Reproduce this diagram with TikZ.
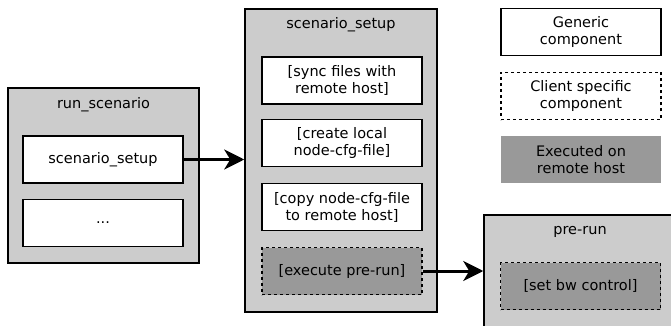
\documentclass[tikz,border=0pt]{standalone}
\usepackage{fontspec}
\setmainfont{DejaVu Sans}
\usetikzlibrary{arrows.meta}
\definecolor{outergray}{HTML}{CCCCCC}
\definecolor{remotegray}{HTML}{999999}
\begin{document}
\begin{tikzpicture}[x=1pt,y=-1pt,
    font=\fontsize{14.5}{17}\selectfont,
    group/.style={draw=black,line width=1.5pt,fill=outergray,inner sep=0pt},
    title/.style={inner sep=0pt},
    generic/.style={draw=black,line width=1.5pt,fill=white,align=center,
      minimum width=160pt,minimum height=47pt,inner sep=0pt},
    client/.style={generic,dash pattern=on 3pt off 3pt},
    remote/.style={fill=remotegray},
    flow/.style={line width=3pt,-{Stealth[length=20pt,width=20pt,inset=6pt]}}]
  \useasboundingbox (0,0) rectangle (671,326);
  \clip (0,0) rectangle (671,326);
  % groups
  \node[group,minimum width=191pt,minimum height=175pt] (run) at (103.5,175.5) {};
  \node[group,minimum width=192pt,minimum height=303pt] (setup) at (341,160.5) {};
  \node[group,minimum width=200pt,minimum height=125pt] (prerun) at (584,277.5) {};
  \node[title] (runtitle) at (103.5,105) {run\_scenario};
  \node[title] (setuptitle) at (341,25) {scenario\_setup};
  \node[title] (preruntitle) at (580,232) {pre-run};
  % run_scenario
  \node[generic] (rs_setup) at (103,159.5) {scenario\_setup};
  \node[generic] (rs_more) at (103,223) {...};
  % scenario_setup
  \node[generic] (ss_sync) at (342,80.5) {[sync files with\\remote host]};
  \node[generic] (ss_cfg) at (342,143) {[create local\\node-cfg-file]};
  \node[generic] (ss_copy) at (342,207) {[copy node-cfg-file\\to remote host]};
  \node[client,remote] (ss_prerun) at (342,271) {[execute pre-run]};
  % pre-run
  \node[client,remote] (pr_bw) at (580.5,286) {[set bw control]};
  % legend
  \node[generic] (lg_generic) at (581,32) {Generic\\component};
  \node[client] (lg_client) at (581,96) {Client specific\\component};
  \node[generic,draw=none,remote] (lg_remote) at (581,159.5) {Executed on\\remote host};
  % calls
  \draw[flow] (rs_setup.east) -- (rs_setup.east -| setup.west);
  \draw[flow] (ss_prerun.east) -- (ss_prerun.east -| prerun.west);
\end{tikzpicture}
\end{document}
